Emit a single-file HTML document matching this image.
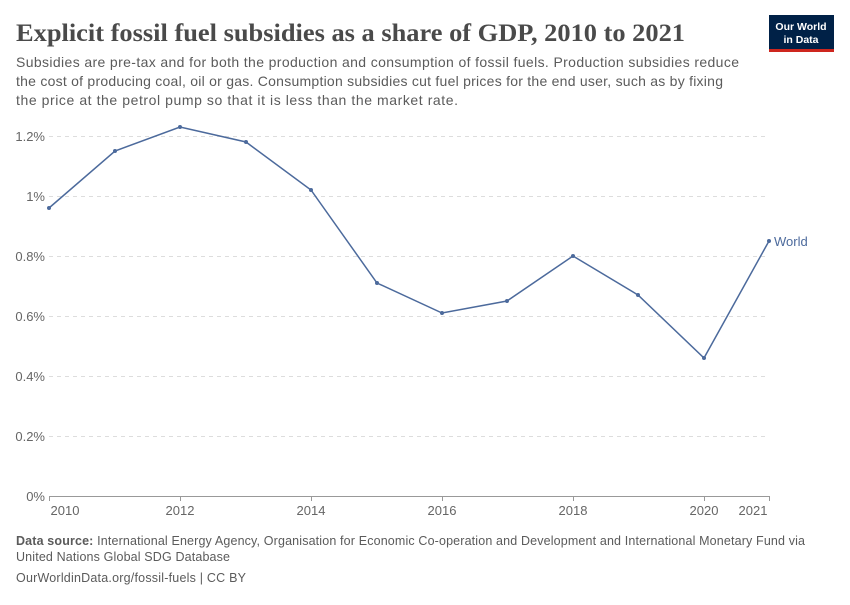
<!DOCTYPE html>
<html><head><meta charset="utf-8"><style>
body{margin:0;background:#fff;font-family:"Liberation Sans",sans-serif;}
</style></head><body>
<svg width="850" height="600" xmlns="http://www.w3.org/2000/svg" font-family="Liberation Sans, sans-serif">
<rect width="850" height="600" fill="#fff"/>
<text x="16" y="41" font-family="Liberation Serif, serif" font-size="25" font-weight="bold" fill="#4a4a4a" textLength="669" lengthAdjust="spacingAndGlyphs">Explicit fossil fuel subsidies as a share of GDP, 2010 to 2021</text>
<text font-size="14" fill="#5b5b5b">
<tspan x="16" y="67" textLength="723">Subsidies are pre-tax and for both the production and consumption of fossil fuels. Production subsidies reduce</tspan>
<tspan x="16" y="86" textLength="707">the cost of producing coal, oil or gas. Consumption subsidies cut fuel prices for the end user, such as by fixing</tspan>
<tspan x="16" y="105" textLength="442">the price at the petrol pump so that it is less than the market rate.</tspan>
</text>
<rect x="769" y="15" width="65" height="36" fill="#002147"/>
<rect x="769" y="49" width="65" height="3" fill="#ce261e"/>
<text x="801" y="30" font-size="10.5" fill="#fff" text-anchor="middle" font-weight="bold">Our World</text>
<text x="801" y="43" font-size="10.5" fill="#fff" text-anchor="middle" font-weight="bold">in Data</text>
<g stroke="#ddd" stroke-dasharray="4,4">
<line x1="49" x2="769" y1="436.5" y2="436.5"/><line x1="49" x2="769" y1="376.5" y2="376.5"/>
<line x1="49" x2="769" y1="316.5" y2="316.5"/><line x1="49" x2="769" y1="256.5" y2="256.5"/>
<line x1="49" x2="769" y1="196.5" y2="196.5"/><line x1="49" x2="769" y1="136.5" y2="136.5"/>
</g>
<line x1="49" x2="769" y1="496.5" y2="496.5" stroke="#999"/>
<g font-size="13" fill="#666" text-anchor="end">
<text x="45" y="501">0%</text><text x="45" y="441">0.2%</text><text x="45" y="381">0.4%</text>
<text x="45" y="321">0.6%</text><text x="45" y="261">0.8%</text><text x="45" y="201">1%</text><text x="45" y="141">1.2%</text>
</g>
<g font-size="13" fill="#666" text-anchor="middle">
<text x="65" y="515">2010</text><text x="180" y="515">2012</text><text x="311" y="515">2014</text>
<text x="442" y="515">2016</text><text x="573" y="515">2018</text><text x="704" y="515">2020</text><text x="753" y="515">2021</text>
</g>
<g stroke="#999"><line x1="49.5" x2="49.5" y1="496" y2="501"/><line x1="180.5" x2="180.5" y1="496" y2="501"/><line x1="311.5" x2="311.5" y1="496" y2="501"/><line x1="442.5" x2="442.5" y1="496" y2="501"/><line x1="573.5" x2="573.5" y1="496" y2="501"/><line x1="704.5" x2="704.5" y1="496" y2="501"/><line x1="769.5" x2="769.5" y1="496" y2="501"/></g>
<polyline fill="none" stroke="#4c6a9c" stroke-width="1.5" points="49,208 115,151 180,127 246,142 311,190 377,283 442,313 507,301 573,256 638,295 704,358 769,241"/>
<g fill="#4c6a9c">
<circle cx="49" cy="208" r="2"/><circle cx="115" cy="151" r="2"/><circle cx="180" cy="127" r="2"/><circle cx="246" cy="142" r="2"/><circle cx="311" cy="190" r="2"/><circle cx="377" cy="283" r="2"/><circle cx="442" cy="313" r="2"/><circle cx="507" cy="301" r="2"/><circle cx="573" cy="256" r="2"/><circle cx="638" cy="295" r="2"/><circle cx="704" cy="358" r="2"/><circle cx="769" cy="241" r="2"/>
</g>
<text x="774" y="246" font-size="13" fill="#4c6a9c">World</text>
<text font-size="12.5" fill="#5b5b5b">
<tspan x="16" y="545" textLength="789"><tspan font-weight="bold">Data source:</tspan> International Energy Agency, Organisation for Economic Co-operation and Development and International Monetary Fund via</tspan>
<tspan x="16" y="561" textLength="214">United Nations Global SDG Database</tspan>
<tspan x="16" y="582" textLength="230">OurWorldinData.org/fossil-fuels | CC BY</tspan>
</text>
</svg>
</body></html>
